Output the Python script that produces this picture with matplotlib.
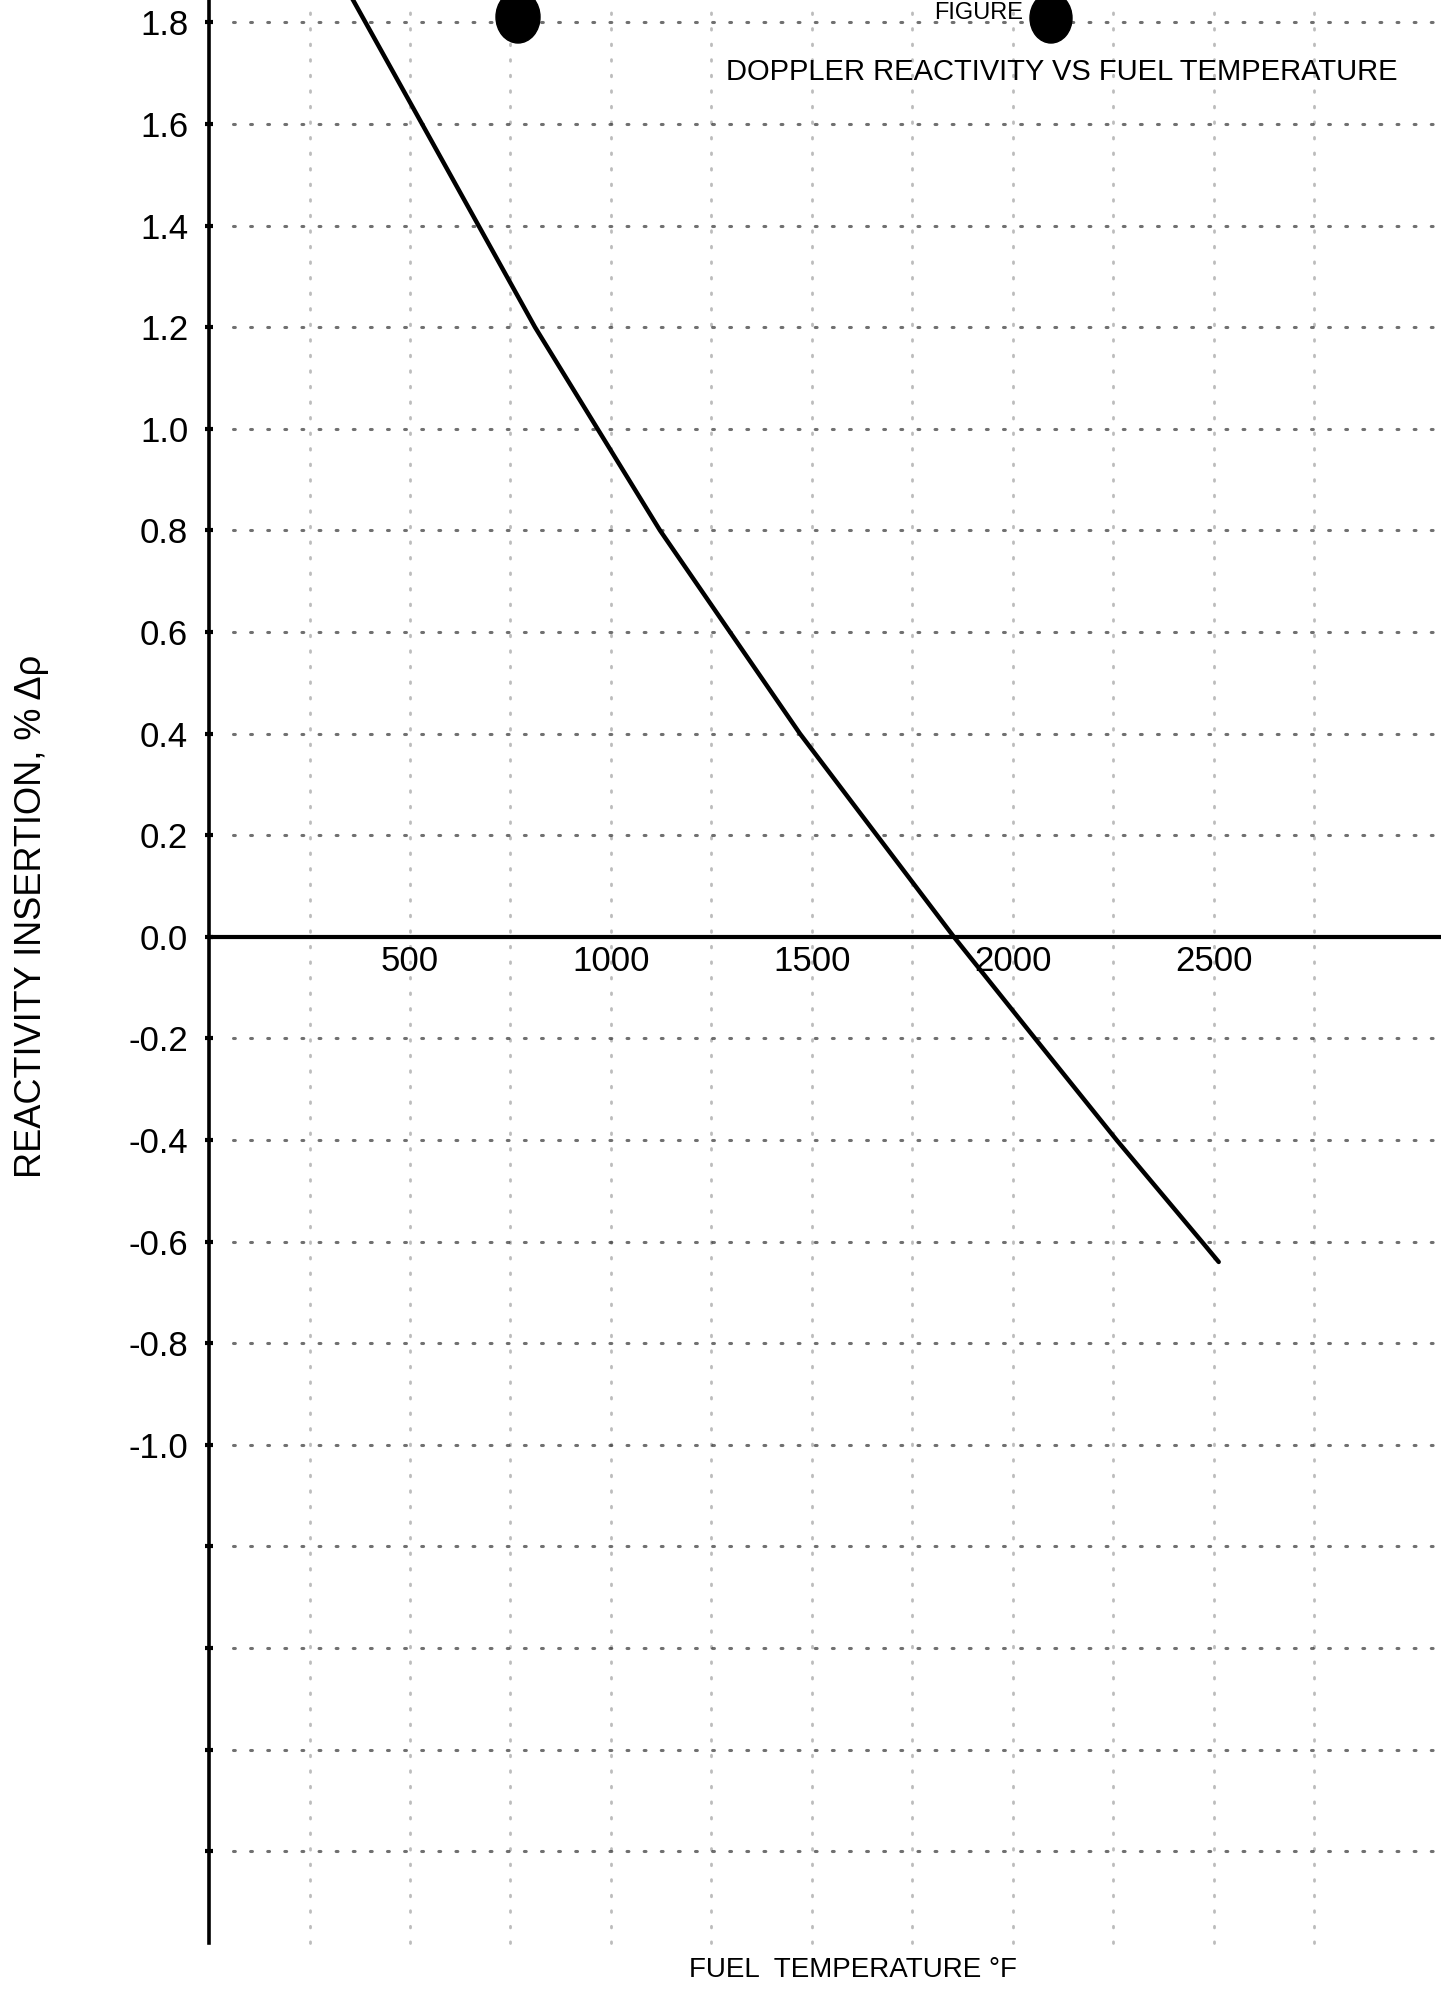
import matplotlib
matplotlib.use("Agg")
import matplotlib.pyplot as plt
from matplotlib.patches import Ellipse

FONT = ["Liberation Sans", "DejaVu Sans"]
plt.rcParams.update({"font.family": FONT, "axes.unicode_minus": False})

# curve (deg F, % delta-rho)
temp_f = [340, 530, 811, 1122, 1470, 1853, 2055, 2258, 2470, 2512]
reactivity = [1.87, 1.60, 1.20, 0.80, 0.40, 0.00, -0.20, -0.40, -0.60, -0.64]

y_ticks = [1.8, 1.6, 1.4, 1.2, 1.0, 0.8, 0.6, 0.4, 0.2, 0.0,
           -0.2, -0.4, -0.6, -0.8, -1.0, -1.2, -1.4, -1.6, -1.8]
y_labels = ["1.8", "1.6", "1.4", "1.2", "1.0", "0.8", "0.6", "0.4", "0.2", "0.0",
            "-0.2", "-0.4", "-0.6", "-0.8", "-1.0", "", "", "", ""]
x_ticks = [500, 1000, 1500, 2000, 2500]
x_labels = ["500", "1000", "1500", "2000", "2500"]
grid_t = [250, 500, 750, 1000, 1250, 1500, 1750, 2000, 2250, 2500, 2750]

fig = plt.figure(figsize=(14.41, 19.92), dpi=100)
ax = fig.add_axes([0, 0, 1, 1])
ax.set_xlim(-520, 3065)
ax.set_ylim(-2.077, 1.844)

# faint dotted graph-paper grid left over in the scan
dots = (0, (0.6, 5))
for y in y_ticks:
    if y != 0:
        ax.hlines(y, 60, 3065, colors="#111111", lw=2.2, ls=dots, alpha=0.6,
                  capstyle="round", zorder=1)
for t in grid_t:
    ax.vlines(t, -1.98, 1.844, colors="#222222", lw=2.0, ls=dots, alpha=0.3,
              capstyle="round", zorder=1)

ax.plot(temp_f, reactivity, color="black", lw=3.2, solid_capstyle="round",
        solid_joinstyle="round", zorder=4)

# axes through the origin
for s in ["top", "right"]:
    ax.spines[s].set_visible(False)
ax.spines["left"].set_position(("data", 0))
ax.spines["bottom"].set_position(("data", 0))
ax.spines["left"].set_bounds(-1.98, 1.844)
ax.spines["bottom"].set_bounds(0, 3065)
ax.spines["left"].set_linewidth(2.6)
ax.spines["bottom"].set_linewidth(3.0)

ax.set_yticks(y_ticks)
ax.set_yticklabels(y_labels)
ax.tick_params(axis="y", direction="inout", length=6, width=3, pad=12, labelsize=25)
ax.set_xticks(x_ticks)
ax.set_xticklabels(x_labels)
ax.tick_params(axis="x", length=0, pad=6, labelsize=25)

fig.text(0.022, 0.54, "REACTIVITY INSERTION, % \u0394\u03c1", rotation=90,
         ha="center", va="center", fontsize=26)
fig.text(0.592, 0.011, "FUEL  TEMPERATURE \u00b0F", ha="center", va="center", fontsize=20)
fig.text(0.737, 0.964, "DOPPLER REACTIVITY VS FUEL TEMPERATURE",
         ha="center", va="center", fontsize=21)
fig.text(0.71, 0.999, "FIGURE", ha="right", va="top", fontsize=17)

# punch-hole blobs from the scan
for cx, cy, w, h in [(518, 17, 44, 52), (1051, 18, 42, 50)]:
    fig.patches.append(Ellipse((cx / 1441, 1 - cy / 1992), w / 1441, h / 1992,
                               transform=fig.transFigure, color="black"))

fig.savefig("out.png", dpi=100, facecolor="white")
